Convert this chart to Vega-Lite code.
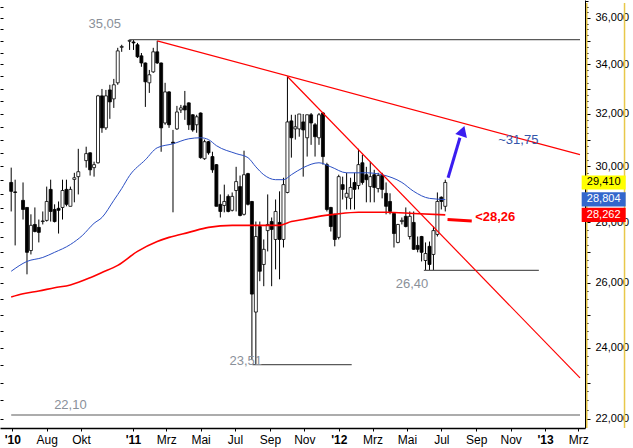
{
"$schema":"https://vega.github.io/schema/vega-lite/v6.json",
"width":585,"height":428,"padding":{"left":0,"top":0,"right":48,"bottom":20},"autosize":{"type":"none"},
"background":"white",
"config":{"view":{"stroke":null},"font":"Liberation Sans"},
"datasets":{
"ohlc":[
{"d":"2010-05-30","o":29.41,"h":29.95,"l":28.38,"c":29.09},
{"d":"2010-06-06","o":29.07,"h":29.51,"l":27.22,"c":29.05},
{"d":"2010-06-20","o":28.77,"h":29.41,"l":28.10,"c":28.45},
{"d":"2010-06-27","o":28.52,"h":28.52,"l":26.27,"c":26.99},
{"d":"2010-07-04","o":27.05,"h":28.28,"l":26.92,"c":27.90},
{"d":"2010-07-11","o":27.93,"h":28.52,"l":27.66,"c":27.69},
{"d":"2010-07-18","o":27.83,"h":28.10,"l":27.32,"c":27.66},
{"d":"2010-07-25","o":28.03,"h":28.38,"l":27.93,"c":28.05},
{"d":"2010-08-01","o":28.07,"h":29.26,"l":28.03,"c":28.73},
{"d":"2010-08-08","o":29.16,"h":29.51,"l":28.03,"c":28.38},
{"d":"2010-08-15","o":28.45,"h":28.63,"l":28.00,"c":28.03},
{"d":"2010-08-22","o":28.49,"h":28.73,"l":27.62,"c":28.42},
{"d":"2010-08-29","o":28.52,"h":29.51,"l":28.10,"c":29.12},
{"d":"2010-09-05","o":29.16,"h":29.51,"l":28.56,"c":28.63},
{"d":"2010-09-12","o":28.56,"h":29.26,"l":28.56,"c":29.16},
{"d":"2010-09-19","o":29.52,"h":29.76,"l":28.70,"c":29.58},
{"d":"2010-09-26","o":29.62,"h":30.65,"l":28.98,"c":29.80},
{"d":"2010-10-10","o":30.21,"h":30.73,"l":29.95,"c":30.47},
{"d":"2010-10-17","o":30.50,"h":30.52,"l":29.66,"c":29.87},
{"d":"2010-10-24","o":29.95,"h":30.17,"l":29.62,"c":30.06},
{"d":"2010-10-31","o":30.13,"h":32.75,"l":30.10,"c":32.71},
{"d":"2010-11-07","o":32.71,"h":32.99,"l":31.26,"c":31.45},
{"d":"2010-11-14","o":31.45,"h":32.95,"l":31.37,"c":32.71},
{"d":"2010-11-21","o":32.95,"h":33.16,"l":31.80,"c":32.47},
{"d":"2010-11-28","o":32.59,"h":33.40,"l":32.23,"c":33.16},
{"d":"2010-12-05","o":33.24,"h":34.70,"l":33.16,"c":34.57},
{"d":"2010-12-12","o":34.72,"h":34.83,"l":34.53,"c":34.76},
{"d":"2010-12-26","o":34.98,"h":35.05,"l":34.61,"c":35.02},
{"d":"2011-01-02","o":34.95,"h":35.05,"l":34.61,"c":34.91},
{"d":"2011-01-09","o":34.83,"h":34.91,"l":34.27,"c":34.32},
{"d":"2011-01-16","o":34.36,"h":34.48,"l":33.90,"c":34.06},
{"d":"2011-01-23","o":34.06,"h":34.08,"l":32.27,"c":33.28},
{"d":"2011-01-30","o":33.24,"h":33.77,"l":32.83,"c":33.57},
{"d":"2011-02-06","o":33.69,"h":34.70,"l":33.65,"c":34.53},
{"d":"2011-02-13","o":34.53,"h":35.00,"l":34.02,"c":34.06},
{"d":"2011-02-20","o":34.06,"h":34.08,"l":30.54,"c":31.45},
{"d":"2011-02-27","o":31.64,"h":33.24,"l":31.57,"c":32.87},
{"d":"2011-03-06","o":32.87,"h":32.90,"l":31.45,"c":31.57},
{"d":"2011-03-13","o":30.90,"h":31.37,"l":28.35,"c":30.86},
{"d":"2011-03-20","o":31.41,"h":32.31,"l":31.37,"c":32.07},
{"d":"2011-03-27","o":32.15,"h":32.35,"l":32.03,"c":32.23},
{"d":"2011-04-03","o":32.31,"h":32.91,"l":31.76,"c":32.15},
{"d":"2011-04-10","o":32.43,"h":32.45,"l":31.37,"c":31.57},
{"d":"2011-04-17","o":31.96,"h":31.98,"l":31.30,"c":31.37},
{"d":"2011-04-24","o":31.57,"h":31.96,"l":31.26,"c":31.88},
{"d":"2011-05-01","o":32.03,"h":32.05,"l":30.28,"c":30.32},
{"d":"2011-05-08","o":30.28,"h":31.00,"l":30.24,"c":30.92},
{"d":"2011-05-15","o":30.92,"h":30.95,"l":30.43,"c":30.50},
{"d":"2011-05-22","o":30.36,"h":30.54,"l":29.76,"c":29.87},
{"d":"2011-05-29","o":30.06,"h":30.08,"l":28.56,"c":28.56},
{"d":"2011-06-05","o":28.63,"h":28.98,"l":28.17,"c":28.38},
{"d":"2011-06-12","o":28.59,"h":29.33,"l":28.35,"c":28.73},
{"d":"2011-06-19","o":28.91,"h":28.98,"l":28.35,"c":28.38},
{"d":"2011-06-26","o":28.42,"h":29.05,"l":28.38,"c":28.91},
{"d":"2011-07-03","o":29.12,"h":29.98,"l":28.38,"c":29.44},
{"d":"2011-07-10","o":29.26,"h":29.66,"l":28.21,"c":28.24},
{"d":"2011-07-17","o":28.28,"h":30.58,"l":28.24,"c":29.69},
{"d":"2011-07-24","o":29.73,"h":29.76,"l":28.59,"c":28.63},
{"d":"2011-07-31","o":28.73,"h":28.75,"l":23.65,"c":25.64},
{"d":"2011-08-07","o":25.08,"h":28.03,"l":23.51,"c":27.52},
{"d":"2011-08-14","o":27.86,"h":28.03,"l":26.05,"c":26.37},
{"d":"2011-08-21","o":26.59,"h":27.42,"l":25.89,"c":27.09},
{"d":"2011-08-28","o":27.72,"h":28.98,"l":27.02,"c":27.93},
{"d":"2011-09-04","o":28.03,"h":28.17,"l":25.89,"c":27.76},
{"d":"2011-09-11","o":27.42,"h":28.80,"l":26.43,"c":28.38},
{"d":"2011-09-18","o":28.00,"h":29.09,"l":26.11,"c":27.42},
{"d":"2011-09-25","o":27.42,"h":29.58,"l":27.15,"c":29.33},
{"d":"2011-10-02","o":29.05,"h":33.50,"l":29.02,"c":31.68},
{"d":"2011-10-09","o":31.72,"h":31.96,"l":30.32,"c":31.07},
{"d":"2011-10-16","o":31.41,"h":31.96,"l":31.00,"c":31.49},
{"d":"2011-10-23","o":31.41,"h":31.99,"l":31.11,"c":31.99},
{"d":"2011-10-30","o":31.68,"h":31.99,"l":29.62,"c":31.37},
{"d":"2011-11-06","o":31.07,"h":31.96,"l":30.36,"c":31.96},
{"d":"2011-11-13","o":31.96,"h":32.03,"l":30.80,"c":31.64},
{"d":"2011-11-20","o":31.57,"h":31.64,"l":30.36,"c":31.11},
{"d":"2011-11-27","o":31.07,"h":32.03,"l":30.80,"c":31.96},
{"d":"2011-12-04","o":32.03,"h":32.07,"l":30.06,"c":30.36},
{"d":"2011-12-11","o":30.06,"h":30.13,"l":28.38,"c":28.45},
{"d":"2011-12-18","o":28.52,"h":28.54,"l":27.69,"c":27.86},
{"d":"2011-12-25","o":28.28,"h":28.30,"l":27.19,"c":27.42},
{"d":"2012-01-01","o":27.49,"h":29.69,"l":27.42,"c":29.62},
{"d":"2012-01-08","o":29.33,"h":29.62,"l":28.80,"c":29.16},
{"d":"2012-01-15","o":28.88,"h":29.76,"l":28.45,"c":29.02},
{"d":"2012-01-22","o":28.84,"h":29.58,"l":28.45,"c":29.23},
{"d":"2012-01-29","o":29.41,"h":29.76,"l":28.45,"c":29.16},
{"d":"2012-02-05","o":29.30,"h":30.65,"l":29.16,"c":30.06},
{"d":"2012-02-12","o":30.13,"h":30.43,"l":29.33,"c":29.41},
{"d":"2012-02-19","o":29.69,"h":29.98,"l":28.70,"c":29.51},
{"d":"2012-02-26","o":29.26,"h":30.17,"l":28.70,"c":29.62},
{"d":"2012-03-04","o":29.69,"h":29.87,"l":28.70,"c":29.23},
{"d":"2012-03-11","o":29.19,"h":29.76,"l":29.05,"c":29.66},
{"d":"2012-03-18","o":29.66,"h":29.76,"l":28.84,"c":29.16},
{"d":"2012-03-25","o":29.02,"h":29.41,"l":28.28,"c":28.56},
{"d":"2012-04-01","o":28.73,"h":29.02,"l":28.28,"c":28.38},
{"d":"2012-04-08","o":28.31,"h":28.33,"l":27.15,"c":27.62},
{"d":"2012-04-15","o":27.32,"h":27.95,"l":27.29,"c":27.93},
{"d":"2012-04-22","o":28.03,"h":28.17,"l":27.93,"c":28.07},
{"d":"2012-04-29","o":28.21,"h":28.52,"l":27.83,"c":27.86},
{"d":"2012-05-06","o":27.52,"h":28.38,"l":27.42,"c":28.21},
{"d":"2012-05-13","o":28.00,"h":28.38,"l":27.07,"c":27.09},
{"d":"2012-05-20","o":27.22,"h":27.52,"l":26.99,"c":27.09},
{"d":"2012-05-27","o":27.52,"h":27.54,"l":26.69,"c":26.99},
{"d":"2012-06-03","o":26.72,"h":27.32,"l":26.40,"c":26.95},
{"d":"2012-06-10","o":27.19,"h":27.35,"l":26.40,"c":26.59},
{"d":"2012-06-17","o":26.92,"h":27.86,"l":26.40,"c":27.72},
{"d":"2012-06-24","o":27.59,"h":29.05,"l":27.52,"c":28.73},
{"d":"2012-07-01","o":28.88,"h":28.91,"l":28.45,"c":28.73},
{"d":"2012-07-08","o":28.56,"h":29.51,"l":28.38,"c":29.41}
],
"gd":[
{"d":"2010-05-30","v":26.37},{"d":"2010-06-27","v":26.69},{"d":"2010-07-25","v":26.82},{"d":"2010-08-15","v":26.99},
{"d":"2010-09-12","v":27.25},{"d":"2010-10-03","v":27.55},{"d":"2010-10-24","v":27.97},{"d":"2010-11-07","v":28.17},
{"d":"2010-11-28","v":28.77},{"d":"2010-12-12","v":29.19},{"d":"2010-12-26","v":29.66},{"d":"2011-01-23","v":30.24},
{"d":"2011-02-13","v":30.69},{"d":"2011-03-13","v":30.84},{"d":"2011-04-10","v":31.03},{"d":"2011-05-01","v":31.07},
{"d":"2011-05-15","v":31.00},{"d":"2011-05-29","v":30.77},{"d":"2011-07-03","v":30.47},{"d":"2011-07-24","v":30.32},
{"d":"2011-08-07","v":29.98},{"d":"2011-08-21","v":29.69},{"d":"2011-09-11","v":29.51},{"d":"2011-09-25","v":29.51},
{"d":"2011-10-09","v":29.69},{"d":"2011-10-30","v":29.95},{"d":"2011-11-27","v":30.13},{"d":"2011-12-18","v":29.98},
{"d":"2012-01-15","v":29.76},{"d":"2012-02-19","v":29.76},{"d":"2012-03-18","v":29.69},{"d":"2012-04-22","v":29.41},
{"d":"2012-05-13","v":29.09},{"d":"2012-06-10","v":28.84},{"d":"2012-07-08","v":28.80}
],
"gd200":[
{"d":"2010-05-30","v":25.55},{"d":"2010-06-20","v":25.65},{"d":"2010-07-18","v":25.74},{"d":"2010-08-15","v":25.84},
{"d":"2010-09-12","v":25.93},{"d":"2010-10-17","v":26.16},{"d":"2010-11-07","v":26.33},{"d":"2010-12-05","v":26.56},
{"d":"2011-01-09","v":27.02},{"d":"2011-02-13","v":27.35},{"d":"2011-03-06","v":27.49},{"d":"2011-04-10","v":27.66},
{"d":"2011-05-15","v":27.83},{"d":"2011-06-26","v":27.90},{"d":"2011-08-07","v":27.90},{"d":"2011-09-18","v":27.90},
{"d":"2011-10-09","v":28.03},{"d":"2011-10-30","v":28.10},{"d":"2011-11-27","v":28.21},{"d":"2011-12-25","v":28.28},
{"d":"2012-02-05","v":28.35},{"d":"2012-03-25","v":28.35},{"d":"2012-05-13","v":28.31},{"d":"2012-07-08","v":28.26}
],
"lvl":[
{"id":"h3505","d":"2010-12-26","v":35.05},{"id":"h3505","d":"2013-03-04","v":35.05},
{"id":"l2351","d":"2011-08-01","v":23.51},{"id":"l2351","d":"2012-01-24","v":23.51},
{"id":"l2640","d":"2012-05-31","v":26.40},{"id":"l2640","d":"2012-12-21","v":26.40},
{"id":"l2210","d":"2010-05-30","v":22.10},{"id":"l2210","d":"2013-03-04","v":22.10}
],
"trend":[
{"id":"t1","d":"2011-02-13","v":35.00},{"id":"t1","d":"2013-03-04","v":30.43},
{"id":"t2","d":"2011-10-02","v":33.50},{"id":"t2","d":"2013-03-04","v":23.13}
],
"txt":[
{"t":"35,05","d":"2010-11-12","v":35.74,"k":"lvl"},
{"t":"23,51","d":"2011-07-20","v":23.62,"k":"lvl"},
{"t":"26,40","d":"2012-05-10","v":25.97,"k":"lvl"},
{"t":"22,10","d":"2010-09-12","v":22.37,"k":"lvl"},
{"t":"~31,75","d":"2012-10-10","v":30.98,"k":"target"},
{"t":"<28,26","d":"2012-08-30","v":28.17,"k":"support"}
],
"seg":[
{"k":"arrow","d1":"2012-07-13","v1":29.58,"d2":"2012-08-03","v2":31.07},
{"k":"support","d1":"2012-07-12","v1":28.10,"d2":"2012-08-24","v2":28.05}
],
"head":[{"d":"2012-08-08","v":31.33}],
"box":[
{"lab":"29,410","v":29.41,"k":"Kurs"},
{"lab":"28,804","v":28.804,"k":"GD"},
{"lab":"28,262","v":28.262,"k":"GD200"}
],
"frame":[{"d":"2013-03-16"},{"d":"2013-05-22"}]
},
"resolve":{"scale":{"y":"shared","x":"shared"},"axis":{"y":"independent"}},
"layer":[
{"data":{"name":"ohlc"},
 "mark":{"type":"rule","color":"black","strokeWidth":1},
 "encoding":{
  "x":{"field":"d","type":"temporal","title":null,
   "scale":{"domain":[{"year":2010,"month":5,"date":19},{"year":2013,"month":3,"date":4}],"nice":false},
   "axis":{"values":[{"year":2010,"month":6,"date":1},{"year":2010,"month":8,"date":1},{"year":2010,"month":10,"date":1},{"year":2011,"month":1,"date":1},{"year":2011,"month":3,"date":1},{"year":2011,"month":5,"date":1},{"year":2011,"month":7,"date":1},{"year":2011,"month":9,"date":1},{"year":2011,"month":11,"date":1},{"year":2012,"month":1,"date":1},{"year":2012,"month":3,"date":1},{"year":2012,"month":5,"date":1},{"year":2012,"month":7,"date":1},{"year":2012,"month":9,"date":1},{"year":2012,"month":11,"date":1},{"year":2013,"month":1,"date":1},{"year":2013,"month":3,"date":1}],
    "tickCount":40,
    "labelExpr":"(month(datum.value)==0 || month(datum.value)==5) ? \"'\" + timeFormat(datum.value,'%y') : ['Jan','Feb','Mrz','Apr','Mai','Jun','Jul','Aug','Sep','Okt','Nov','Dez'][month(datum.value)]",
    "labelFontWeight":{"condition":{"test":"month(datum.value)==0 || month(datum.value)==5","value":"bold"},"value":"normal"},
    "labelFont":"Liberation Sans","labelFontSize":12,"labelColor":"black","labelPadding":3,"labelOverlap":false,"labelFlush":false,"labelBound":false,
    "tickSize":3,"tickColor":"black","domainColor":"black","domainWidth":1.5,"grid":false}},
  "y":{"field":"l","type":"quantitative","title":null,
   "scale":{"type":"log","domain":[21.75,36.8],"nice":false,"zero":false},
   "axis":{"orient":"right","values":[22,22.25,22.5,22.75,23,23.25,23.5,23.75,24,24.25,24.5,24.75,25,25.25,25.5,25.75,26,26.25,26.5,26.75,27,27.25,27.5,27.75,28,28.25,28.5,28.75,29,29.25,29.5,29.75,30,30.25,30.5,30.75,31,31.25,31.5,31.75,32,32.25,32.5,32.75,33,33.25,33.5,33.75,34,34.25,34.5,34.75,35,35.25,35.5,35.75,36,36.25,36.5,36.75],
    "tickCount":200,
    "labelExpr":"datum.value % 2 == 0 ? replace(format(datum.value,'.3f'),'.',',') : ''",
    "labelFont":"Liberation Sans","labelFontSize":11,"labelColor":"black","labelPadding":5,"labelOverlap":false,"labelBound":false,
    "tickSize":{"condition":{"test":"datum.value % 1 == 0","value":5},"value":3},"tickColor":"black","domainColor":"black","grid":false}},
  "y2":{"field":"h"}}},
{"data":{"name":"ohlc"},
 "mark":{"type":"bar","size":3,"stroke":"black","strokeWidth":0.8},
 "encoding":{
  "x":{"field":"d","type":"temporal","title":null},
  "y":{"field":"o","type":"quantitative","axis":null},
  "y2":{"field":"c"},
  "fill":{"condition":{"test":"datum.c >= datum.o","value":"white"},"value":"black"}}},
{"data":{"name":"gd"},
 "mark":{"type":"line","color":"#2b4fc4","strokeWidth":1,"interpolate":"monotone"},
 "encoding":{
  "x":{"field":"d","type":"temporal","title":null},
  "y":{"field":"v","type":"quantitative","title":null,
   "axis":{"orient":"left","values":[22,22.5,23,23.5,24,24.5,25,25.5,26,26.5,27,27.5,28,28.5,29,29.5,30,30.5,31,31.5,32,32.5,33,33.5,34,34.5,35,35.5,36,36.5],"tickCount":200,"labels":false,"domain":false,"tickSize":3,"offset":-3,"tickColor":"black","grid":false}}}},
{"data":{"name":"gd200"},
 "mark":{"type":"line","color":"#ff0000","strokeWidth":1.6,"interpolate":"monotone"},
 "encoding":{
  "x":{"field":"d","type":"temporal","title":null},
  "y":{"field":"v","type":"quantitative","axis":null}}},
{"data":{"name":"lvl"},
 "mark":{"type":"line","color":"#5a5a5a","strokeWidth":1.2},
 "encoding":{
  "x":{"field":"d","type":"temporal","title":null},
  "y":{"field":"v","type":"quantitative","axis":null},
  "detail":{"field":"id"}}},
{"data":{"name":"trend"},
 "mark":{"type":"line","color":"#ff0000","strokeWidth":1.2},
 "encoding":{
  "x":{"field":"d","type":"temporal","title":null},
  "y":{"field":"v","type":"quantitative","axis":null},
  "detail":{"field":"id"}}},
{"data":{"name":"txt"},
 "transform":[{"filter":"datum.k=='lvl'"}],
 "mark":{"type":"text","color":"#8a9099","fontSize":13,"font":"Liberation Sans","align":"center","baseline":"middle"},
 "encoding":{
  "x":{"field":"d","type":"temporal","title":null},
  "y":{"field":"v","type":"quantitative","axis":null},
  "text":{"field":"t"}}},
{"data":{"name":"txt"},
 "transform":[{"filter":"datum.k=='target'"}],
 "mark":{"type":"text","color":"#3355aa","fontSize":13,"font":"Liberation Sans","align":"left","baseline":"middle"},
 "encoding":{
  "x":{"field":"d","type":"temporal","title":null},
  "y":{"field":"v","type":"quantitative","axis":null},
  "text":{"field":"t"}}},
{"data":{"name":"txt"},
 "transform":[{"filter":"datum.k=='support'"}],
 "mark":{"type":"text","color":"#ff0000","fontSize":13,"fontWeight":"bold","font":"Liberation Sans","align":"left","baseline":"middle"},
 "encoding":{
  "x":{"field":"d","type":"temporal","title":null},
  "y":{"field":"v","type":"quantitative","axis":null},
  "text":{"field":"t"}}},
{"data":{"name":"seg"},
 "transform":[{"filter":"datum.k=='arrow'"}],
 "mark":{"type":"rule","color":"#3a1df0","strokeWidth":3},
 "encoding":{
  "x":{"field":"d1","type":"temporal","title":null},
  "y":{"field":"v1","type":"quantitative","axis":null},
  "x2":{"field":"d2"},"y2":{"field":"v2"}}},
{"data":{"name":"seg"},
 "transform":[{"filter":"datum.k=='support'"}],
 "mark":{"type":"rule","color":"#ff0000","strokeWidth":3},
 "encoding":{
  "x":{"field":"d1","type":"temporal","title":null},
  "y":{"field":"v1","type":"quantitative","axis":null},
  "x2":{"field":"d2"},"y2":{"field":"v2"}}},
{"data":{"name":"head"},
 "mark":{"type":"point","shape":"triangle-up","filled":true,"color":"#3a1df0","size":150,"angle":18,"opacity":1},
 "encoding":{
  "x":{"field":"d","type":"temporal","title":null},
  "y":{"field":"v","type":"quantitative","axis":null}}},
{"data":{"name":"frame"},
 "mark":{"type":"rule","color":"#e8c84a","strokeWidth":1.5},
 "encoding":{
  "x":{"field":"d","type":"temporal","title":null},
  "y":{"datum":36.67,"type":"quantitative","axis":null},
  "y2":{"datum":21.75}}},
{"data":{"name":"box"},
 "mark":{"type":"point","shape":"M-1,-0.32H1V0.32H-1Z","filled":true,"size":1936,"opacity":1,"strokeWidth":0},
 "encoding":{
  "x":{"datum":{"year":2013,"month":4,"date":15},"type":"temporal","title":null},
  "y":{"field":"v","type":"quantitative","axis":null},
  "fill":{"condition":[{"test":"datum.k=='Kurs'","value":"#ffff00"},{"test":"datum.k=='GD'","value":"#3366cc"}],"value":"#ff0000"}}},
{"data":{"name":"box"},
 "mark":{"type":"text","fontSize":11,"font":"Liberation Sans","align":"center","baseline":"middle"},
 "encoding":{
  "x":{"datum":{"year":2013,"month":4,"date":15},"type":"temporal","title":null},
  "y":{"field":"v","type":"quantitative","axis":null},
  "text":{"field":"lab"},
  "color":{"condition":{"test":"datum.k=='Kurs'","value":"black"},"value":"white"}}}
]
}
